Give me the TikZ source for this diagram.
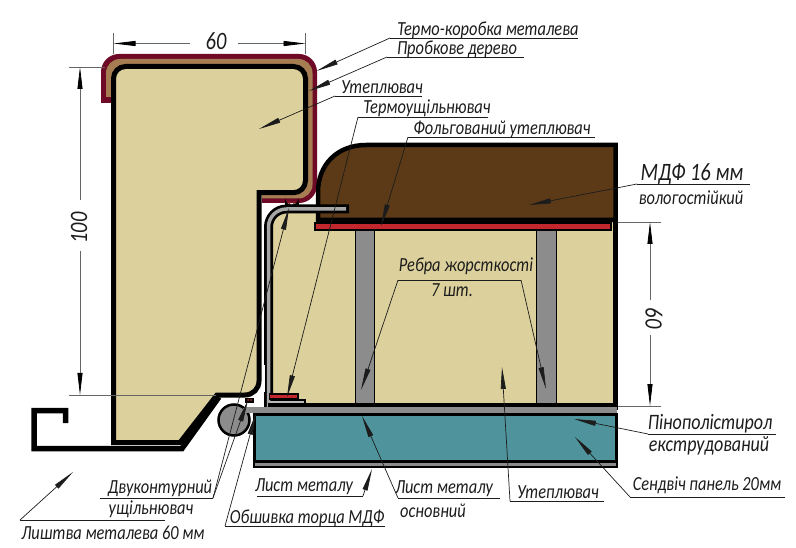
\documentclass[tikz,border=0pt]{standalone}
\usepackage{fontspec}
\setmainfont{Carlito}[FakeStretch=0.82]
\usetikzlibrary{arrows.meta}
\usetikzlibrary{positioning}

\definecolor{beige}{HTML}{DCD19C}
\definecolor{maroon}{HTML}{6E0A26}
\definecolor{tan}{HTML}{A67C52}
\definecolor{mdf}{HTML}{5C3A17}
\definecolor{foil}{HTML}{C1272D}
\definecolor{plate}{HTML}{8C8C8C}
\definecolor{panel}{HTML}{4F949C}
\definecolor{txt}{HTML}{1C1C1C}

\tikzset{
  lbl/.style={font=\fontsize{20}{22}\selectfont\itshape,text=txt,inner sep=0pt},
  lblbig/.style={font=\fontsize{22}{24}\selectfont\itshape,text=txt,inner sep=0pt},
  lblnum/.style={font=\fontsize{25}{27}\selectfont\itshape,text=txt,inner sep=0pt},
  leader/.style={draw=txt,line width=0.7pt,-{Stealth[length=22pt,width=5pt,inset=0pt]}},
  uline/.style={draw=txt,line width=0.7pt},
  dimline/.style={draw=black!60,line width=0.8pt},
  dimtip/.style={draw=black!60,line width=0.8pt,-{Stealth[length=22pt,width=5pt,inset=0pt,black]}},
  outline/.style={draw=black,line width=5pt,line join=miter},
}

\begin{document}
\begin{tikzpicture}[x=1pt,y=-1pt]
\useasboundingbox (0,0) rectangle (796,548);

% frame
\fill[maroon] (101,103) [rounded corners=18pt] -- (101,54) -- (317,54) -- (317,203) [sharp corners] -- (262,203) -- (262,190) -- (112,190) -- (112,103) -- cycle;
\fill[tan] (106,97) [rounded corners=14pt] -- (106,59) -- (312.5,59) -- (312.5,198.5) [sharp corners] -- (262,198.5) -- (262,190) -- (112,190) -- (112,97) -- cycle;
\filldraw[beige,draw=black,line width=5pt,line join=miter] (113.5,442.5) [rounded corners=12pt] -- (113.5,66.5) -- (305.5,66.5) -- (305.5,192.7) [sharp corners] -- (259,192.7) [rounded corners=14pt] -- (259,395) [sharp corners] -- (217,395) -- (180,442.5) -- cycle;

% casing
\draw[black,line width=5.5pt,line join=miter] (65.5,423) -- (65.5,410.5) -- (34,410.5) -- (34,448.5) -- (182,448.5) -- (219,397);

% door filling
\fill[beige] (273,213) rectangle (613,404);
\filldraw[plate,draw=black,line width=1.5pt] (355.5,228) rectangle (374.5,404);
\filldraw[plate,draw=black,line width=1.5pt] (536.5,228) rectangle (556.5,404);
\draw[outline] (615.5,222) -- (615.5,410);

% mdf
\filldraw[mdf,draw=black,line width=4.5pt] (318,220) -- (318,192) .. controls (318,165) and (337,145) .. (366,145) -- (615.5,145) -- (615.5,220) -- cycle;
\filldraw[foil,draw=black,line width=2pt] (315,223) rectangle (611,230);

% profile and seal
\fill[black] (285,198) arc[start angle=180,end angle=0,radius=6.7] -- (299,207) -- (285,207) -- cycle;
\fill[foil!70!black] (289.3,202.5) circle (1.7pt);
\fill[foil!70!black] (294,202.5) circle (1.7pt);
\draw[black,line width=9pt,rounded corners=18pt] (349,209) -- (268.5,209) -- (268.5,408);
\draw[black!35,line width=3.5pt,rounded corners=18pt] (346,209) -- (268.5,209) -- (268.5,408);
\draw[white,line width=1.5pt] (264,365) -- (264,392);
\fill[black] (269,393) rectangle (299,400);
\fill[foil] (270,395) rectangle (297,398);
\fill[black] (273,399) rectangle (306,405);
\fill[plate!60] (270,400.5) rectangle (304,403);

% bottom layers
\fill[plate] (243,407) rectangle (617,413);
\draw[black,line width=4pt] (268,405) -- (617,405);
\filldraw[panel,draw=black,line width=3pt] (254.5,414.5) rectangle (616,461.5);
\filldraw[plate,draw=black,line width=1.2pt] (254,462) rectangle (617,467);
\filldraw[plate,draw=black,line width=2.5pt] (234,420) circle (15.5pt);
\fill[plate] (243,407.5) rectangle (262,413);
\fill[black] (245,398) rectangle (254,403);
\fill[foil] (248,400) circle (1pt);
\fill[foil] (251,400) circle (1pt);

% dimensions
\coordinate (widthL) at (113.5,43.5);
\coordinate (widthR) at (305.5,43.5);
\node[lblnum] (widthText) at (216,41) {60};
\draw[dimline] (113.5,33) -- (113.5,54);
\draw[dimline] (305.5,33) -- (305.5,54);
\draw[dimtip] (190,43.5) -- (widthL);
\draw[dimtip] (238,43.5) -- (widthR);

\coordinate (heightT) at (80,67);
\coordinate (heightB) at (80,395);
\node[lblnum,rotate=90] (heightText) at (79,228) {100};
\draw[dimline] (69,67.5) -- (105,67.5);
\draw[dimline] (69,395) -- (216,395);
\draw[dimtip] (80,200) -- (heightT);
\draw[dimtip] (80,251) -- (heightB);

\coordinate (depthT) at (650,222);
\coordinate (depthB) at (650,406);
\node[lblnum,rotate=-90] (depthText) at (654,318) {60};
\draw[dimline] (618,222) -- (661,222);
\draw[dimline] (618,406) -- (661,406);
\draw[dimtip] (650,300) -- (depthT);
\draw[dimtip] (650,335) -- (depthB);

% labels
\node[lbl] (korobka) at (488,30) {Термо-коробка металева};
\draw[uline] (578,38) -- (390,38);
\coordinate (korobkaL) at (390,38);
\coordinate (korobkaTip) at (316.5,71);
\draw[leader] (korobkaL) -- (korobkaTip);

\node[lbl] (probka) at (457,49) {Пробкове дерево};
\draw[uline] (524,57) -- (387,57);
\coordinate (probkaL) at (387,57);
\coordinate (probkaTip) at (309,91);
\draw[leader] (probkaL) -- (probkaTip);

\node[lbl] (uteplTop) at (382,87) {Утеплювач};
\draw[uline] (422,96) -- (335,96);
\coordinate (uteplTopL) at (335,96);
\coordinate (uteplTopTip) at (259,129);
\draw[leader] (uteplTopL) -- (uteplTopTip);

\node[lbl] (termo) at (427,108) {Термоущільнювач};
\draw[uline] (488,117) -- (358,117);
\coordinate (termoL) at (358,117);
\coordinate (termoTip) at (287,397);
\draw[leader] (termoL) -- (termoTip);

\node[lbl] (foilText) at (502,129) {Фольгований утеплювач};
\draw[uline] (595,137) -- (408,137);
\coordinate (foilL) at (408,137);
\coordinate (foilTip) at (381,226);
\draw[leader] (foilL) -- (foilTip);

\node[font=\fontsize{25}{27}\selectfont\itshape,text=txt,inner sep=0pt] (mdfText) at (692,174) {МДФ 16 мм};
\node[lbl] (mdfText2) at (691,198) {вологостійкий};
\draw[uline] (750,184) -- (637,184);
\coordinate (mdfL) at (637,184);
\coordinate (mdfTip) at (529,205);
\draw[leader] (mdfL) -- (mdfTip);

\node[lbl] (ribs) at (466,266) {Ребра жорсткості};
\node[lbl] (ribs2) at (452,290) {7 шт.};
\coordinate (ribsL) at (398,280);
\coordinate (ribsR) at (521,280);
\coordinate (ribsTipL) at (361,390);
\coordinate (ribsTipR) at (546,389);
\draw[uline] (ribsL) -- (ribsR);
\draw[leader] (ribsL) -- (ribsTipL);
\draw[leader] (ribsR) -- (ribsTipR);

\node[lblbig] (foam) at (710,424) {Пінополістирол};
\node[lblbig] (foam2) at (709,446) {екструдований};
\draw[uline] (776,434) -- (648,434);
\coordinate (foamL) at (648,434);
\coordinate (foamTip) at (574,419);
\draw[leader] (foamL) -- (foamTip);

\node[lbl] (sandwich) at (707,485) {Сендвіч панель 20мм};
\draw[uline] (785,497) -- (630,497);
\coordinate (sandwichL) at (630,497);
\coordinate (sandwichTip) at (575,437);
\draw[leader] (sandwichL) -- (sandwichTip);

\node[lbl] (uteplBot) at (558,492) {Утеплювач};
\draw[uline] (604,501) -- (510,501);
\coordinate (uteplBotL) at (510,501);
\coordinate (uteplBotTip) at (502,367);
\draw[leader] (uteplBotL) -- (uteplBotTip);

\node[lbl] (sheetMain) at (444,489) {Лист металу};
\node[lbl] (sheetMain2) at (433,511) {основний};
\draw[uline] (500,498) -- (398,498);
\coordinate (sheetMainL) at (398,498);
\coordinate (sheetMainTip) at (362,416);
\draw[leader] (sheetMainL) -- (sheetMainTip);

\node[lbl] (sheet) at (304,487) {Лист металу};
\draw[uline] (257,496) -- (363,496);
\coordinate (sheetR) at (363,496);
\coordinate (sheetTip) at (372,469);
\draw[leader] (sheetR) -- (sheetTip);

\node[lbl] (edge) at (307,518) {Обшивка торца МДФ};
\draw[uline] (385,526) -- (225,526);
\coordinate (edgeL) at (225,526);
\coordinate (edgeTip) at (256,413);
\draw[leader] (edgeL) -- (edgeTip);

\node[lbl] (seal) at (160,488) {Двуконтурний};
\node[lbl] (seal2) at (151,509) {ущільнювач};
\draw[uline] (100,498) -- (213,498);
\coordinate (sealR) at (213,498);
\coordinate (sealTipA) at (289,208);
\coordinate (sealTipB) at (248,400);
\draw[leader] (sealR) -- (sealTipA);
\draw[leader] (sealR) -- (sealTipB);

\node[lbl] (casing) at (113,533) {Лиштва металева 60 мм};
\draw[uline] (165,520) -- (20,520);
\coordinate (casingL) at (20,520);
\coordinate (casingTip) at (73,472);
\draw[leader] (casingL) -- (casingTip);

\end{tikzpicture}
\end{document}
